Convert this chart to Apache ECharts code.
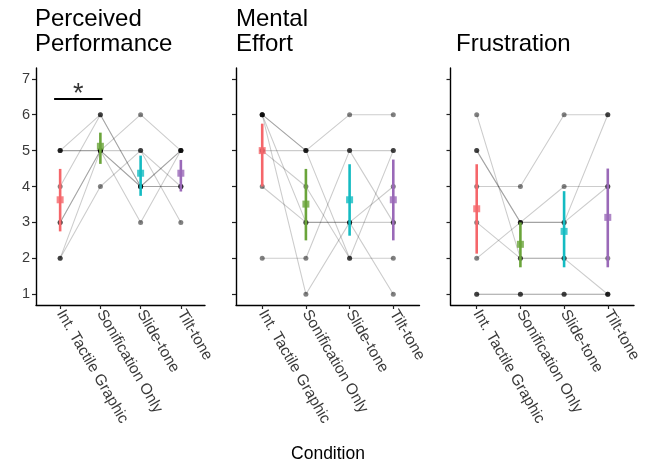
<!DOCTYPE html>
<html>
<head>
<meta charset="utf-8">
<script src="https://cdn.jsdelivr.net/npm/echarts@6/dist/echarts.min.js"></script>
<style>html,body{margin:0;padding:0;background:#fff}#chart{width:646px;height:465px}</style>
</head>
<body>
<div id="chart"></div>
<script>
// ---------- data ----------
const categories = ['Int. Tactile Graphic', 'Sonification Only', 'Slide-tone', 'Tilt-tone'];
const yTicks = [1, 2, 3, 4, 5, 6, 7];
const panelTitles = ['Perceived\nPerformance', 'Mental\nEffort', 'Frustration'];
const xTitle = 'Condition';

// one row per participant: ratings for the four conditions
const perfRatings = [
  [5, 5, 5, 4], [5, 5, 4, 5], [5, 6, 4, 5], [4, 6, 4, 4],
  [3, 5, 6, 5], [3, 5, 4, 4], [2, 5, 3, 5], [2, 4, 5, 3]
];
const effortRatings = [
  [6, 5, 6, 6], [6, 5, 5, 5], [6, 1, 3, 4], [6, 3, 3, 3],
  [5, 5, 2, 2], [5, 4, 2, 5], [4, 3, 3, 1], [2, 2, 5, 3]
];
const frustRatings = [
  [6, 2, 2, 2], [5, 3, 3, 6], [5, 3, 3, 4], [4, 4, 6, 6],
  [3, 2, 2, 1], [2, 3, 4, 4], [1, 1, 1, 1], [1, 1, 1, 1]
];

// means and interval ends per condition
const perfMean = [3.63, 5.12, 4.37, 4.37];
const perfLow = [2.75, 4.63, 3.74, 3.86];
const perfHigh = [4.49, 5.50, 4.86, 4.74];
const effortMean = [5.00, 3.51, 3.63, 3.63];
const effortLow = [4.00, 2.50, 2.63, 2.50];
const effortHigh = [5.75, 4.49, 4.62, 4.75];
const frustMean = [3.38, 2.39, 2.75, 3.14];
const frustLow = [2.13, 1.75, 1.75, 1.75];
const frustHigh = [4.62, 3.00, 3.87, 4.50];

// significance bracket (panel 1)
const sigBracketX = [0.85, 2.05];
const sigBracketY = 6.44;
const sigLabel = '*';

// ---------- styling ----------
const condColors = ['#F5666A', '#6AA43A', '#14BBC2', '#9A69B8'];
const panels = [
  { ratings: perfRatings, mean: perfMean, low: perfLow, high: perfHigh },
  { ratings: effortRatings, mean: effortMean, low: effortLow, high: effortHigh },
  { ratings: frustRatings, mean: frustMean, low: frustLow, high: frustHigh }
];
const gridBoxes = [
  { left: 36, width: 169 },
  { left: 236, width: 183.5 },
  { left: 450.5, width: 183.5 }
];
const xPos = categories.map((c, i) => i + 1);
const fam = 'Liberation Sans, Arial, sans-serif';

const grids = [], xAxes = [], yAxes = [], series = [];
gridBoxes.forEach((g, k) => {
  grids.push({ left: g.left, width: g.width, top: 68, height: 237, containLabel: false });
  xAxes.push({
    type: 'value', gridIndex: k, min: 0.4, max: 4.6,
    splitLine: { show: false },
    axisLine: { show: true, onZero: false, lineStyle: { color: '#000', width: 1.4 } },
    axisTick: { show: true, customValues: xPos, length: 4, lineStyle: { color: '#222', width: 1.2 } },
    axisLabel: {
      show: true, customValues: xPos, rotate: -60, margin: 6,
      color: '#3a3a3a', fontSize: 15.5, fontFamily: fam,
      formatter: v => categories[Math.round(v) - 1] || ''
    }
  });
  yAxes.push({
    type: 'value', gridIndex: k, min: 0.7, max: 7.3,
    splitLine: { show: false },
    axisLine: { show: true, onZero: false, lineStyle: { color: '#000', width: 1.4 } },
    axisTick: { show: true, customValues: yTicks, length: 4, lineStyle: { color: '#222', width: 1.2 } },
    axisLabel: {
      show: k === 0, customValues: yTicks, margin: 6,
      color: '#3a3a3a', fontSize: 14.5, fontFamily: fam
    }
  });

  const p = panels[k];
  // participant lines
  p.ratings.forEach(row => {
    series.push({
      type: 'line', xAxisIndex: k, yAxisIndex: k, silent: true, z: 1,
      data: row.map((v, i) => [xPos[i], v]),
      symbol: 'none', lineStyle: { color: 'rgba(0,0,0,0.2)', width: 1.1 }
    });
  });
  // participant points
  const pts = [];
  p.ratings.forEach(row => row.forEach((v, i) => pts.push([xPos[i], v])));
  series.push({
    type: 'scatter', xAxisIndex: k, yAxisIndex: k, silent: true, z: 2,
    data: pts, symbolSize: 5,
    itemStyle: { color: 'rgba(0,0,0,0.62)' }
  });
  // interval bars
  series.push({
    type: 'custom', xAxisIndex: k, yAxisIndex: k, silent: true, z: 3,
    data: xPos.map((x, i) => [x, p.low[i], p.high[i], i]),
    renderItem: (params, api) => {
      const a = api.coord([api.value(0), api.value(1)]);
      const b = api.coord([api.value(0), api.value(2)]);
      return {
        type: 'line',
        shape: { x1: a[0], y1: a[1], x2: b[0], y2: b[1] },
        style: { stroke: condColors[api.value(3)], lineWidth: 2.6 }
      };
    }
  });
  // means
  series.push({
    type: 'scatter', xAxisIndex: k, yAxisIndex: k, silent: true, z: 4,
    symbol: 'rect', symbolSize: 7,
    data: xPos.map((x, i) => ({ value: [x, p.mean[i]], itemStyle: { color: condColors[i] } }))
  });
});

// significance bracket
series.push({
  type: 'line', xAxisIndex: 0, yAxisIndex: 0, silent: true, z: 5,
  data: sigBracketX.map(x => [x, sigBracketY]), symbol: 'none',
  lineStyle: { color: '#000', width: 2 }
});
series.push({
  type: 'scatter', xAxisIndex: 0, yAxisIndex: 0, silent: true, z: 5,
  data: [[(sigBracketX[0] + sigBracketX[1]) / 2, sigBracketY + 0.13]], symbolSize: 1,
  itemStyle: { color: 'rgba(0,0,0,0)' },
  label: { show: true, position: 'inside', formatter: sigLabel, fontSize: 27, color: '#000',
    fontFamily: fam }
});

const titleFont = { fontSize: 24, fontWeight: 'normal', color: '#000', lineHeight: 25,
  fontFamily: fam };
const chart = echarts.init(document.getElementById('chart'), null, { renderer: 'canvas' });
chart.setOption({
  animation: false,
  backgroundColor: '#fff',
  title: [
    { text: panelTitles[0], left: 35, top: 7, padding: 0, textStyle: titleFont },
    { text: panelTitles[1], left: 236, top: 7, padding: 0, textStyle: titleFont },
    { text: panelTitles[2], left: 456, top: 32, padding: 0, textStyle: titleFont },
    { text: xTitle, left: 328, top: 445, padding: 0, textAlign: 'center',
      textStyle: { fontSize: 17.5, fontWeight: 'normal', color: '#000', fontFamily: fam } }
  ],
  grid: grids, xAxis: xAxes, yAxis: yAxes, series: series
});
</script>
</body>
</html>
